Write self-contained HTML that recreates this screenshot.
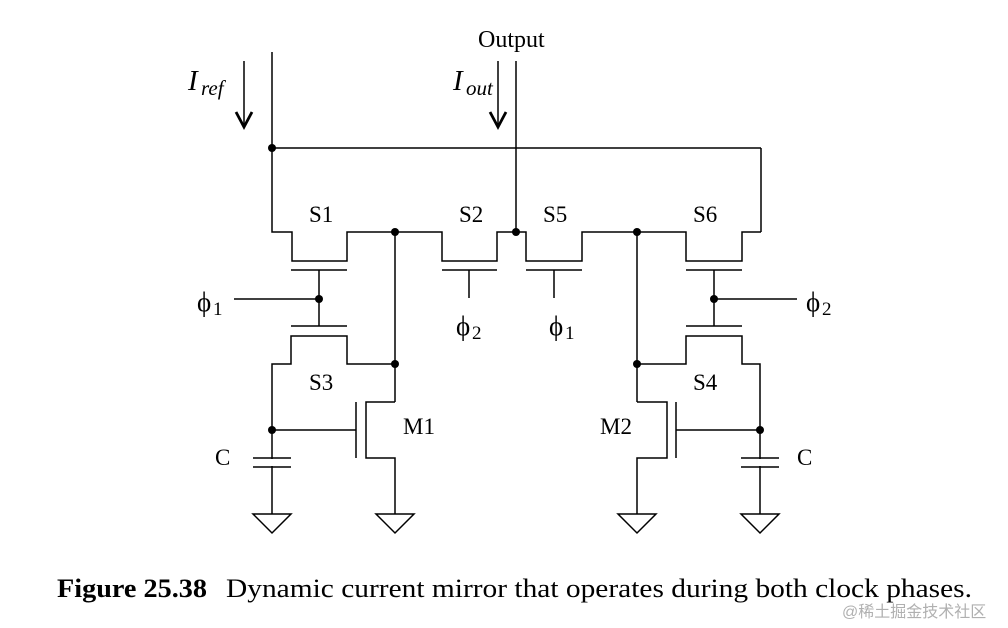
<!DOCTYPE html>
<html><head><meta charset="utf-8"><style>
html,body{margin:0;padding:0;background:#fff;}
svg{display:block;}
text{font-family:"Liberation Serif",serif;fill:#000;}
</style></head><body>
<svg width="1008" height="628" viewBox="0 0 1008 628" xmlns="http://www.w3.org/2000/svg">
<g stroke="#000" stroke-width="1.5" fill="none">
<line x1="272" y1="52" x2="272" y2="148"/>
<line x1="516" y1="61" x2="516" y2="232"/>
<line x1="272" y1="148" x2="761" y2="148"/>
<line x1="761" y1="148" x2="761" y2="232"/>
<line x1="244" y1="61" x2="244" y2="126"/>
<polyline points="236,112 244,127 252,112" stroke-width="2.8"/>
<line x1="498" y1="61" x2="498" y2="126"/>
<polyline points="490,112 498,127 506,112" stroke-width="2.8"/>
<polyline points="272,148 272,232 292,232 292,261 347,261 347,232 442,232 442,261 497,261 497,232 526,232 526,261 582,261 582,232 686,232 686,261 742,261 742,232 761,232"/>
<line x1="291" y1="270" x2="347" y2="270"/>
<line x1="291" y1="326" x2="347" y2="326"/>
<line x1="319" y1="270" x2="319" y2="326"/>
<line x1="234" y1="299" x2="319" y2="299"/>
<polyline points="272,514 272,364 291,364 291,336 347,336 347,364 395,364"/>
<line x1="395" y1="232" x2="395" y2="402"/>
<polyline points="395,402 366,402 366,458 395,458 395,514"/>
<line x1="356" y1="402" x2="356" y2="458"/>
<line x1="272" y1="430" x2="356" y2="430"/>
<line x1="253" y1="458" x2="291" y2="458"/>
<line x1="253" y1="467" x2="291" y2="467"/>
<line x1="442" y1="270" x2="497" y2="270"/>
<line x1="469" y1="270" x2="469" y2="298"/>
<line x1="526" y1="270" x2="582" y2="270"/>
<line x1="554" y1="270" x2="554" y2="298"/>
<line x1="686" y1="270" x2="742" y2="270"/>
<line x1="686" y1="326" x2="742" y2="326"/>
<line x1="714" y1="270" x2="714" y2="326"/>
<line x1="714" y1="299" x2="797" y2="299"/>
<polyline points="637,364 686,364 686,336 742,336 742,364 760,364 760,514"/>
<line x1="637" y1="232" x2="637" y2="402"/>
<polyline points="637,402 667,402 667,458 637,458 637,514"/>
<line x1="676" y1="402" x2="676" y2="458"/>
<line x1="676" y1="430" x2="760" y2="430"/>
<line x1="741" y1="458" x2="779" y2="458"/>
<line x1="741" y1="467" x2="779" y2="467"/>
<polygon points="253,514 291,514 272,533"/>
<polygon points="376,514 414,514 395,533"/>
<polygon points="618,514 656,514 637,533"/>
<polygon points="741,514 779,514 760,533"/>
</g>
<rect x="260" y="459" width="24" height="7" fill="#fff"/>
<rect x="748" y="459" width="24" height="7" fill="#fff"/>
<g fill="#000">
<circle cx="272" cy="148" r="4"/>
<circle cx="395" cy="232" r="4"/>
<circle cx="516" cy="232" r="4"/>
<circle cx="637" cy="232" r="4"/>
<circle cx="319" cy="299" r="4"/>
<circle cx="714" cy="299" r="4"/>
<circle cx="395" cy="364" r="4"/>
<circle cx="637" cy="364" r="4"/>
<circle cx="272" cy="430" r="4"/>
<circle cx="760" cy="430" r="4"/>
</g>
<text x="478" y="47" font-size="24">Output</text>
<text x="188" y="90" font-size="29" font-style="italic">I</text>
<text x="201" y="95" font-size="21" font-style="italic">ref</text>
<text x="453" y="90" font-size="29" font-style="italic">I</text>
<text x="466" y="95" font-size="21" font-style="italic">out</text>
<text x="309" y="222" font-size="23">S1</text>
<text x="459" y="222" font-size="23">S2</text>
<text x="543" y="222" font-size="23">S5</text>
<text x="693" y="222" font-size="23">S6</text>
<text x="309" y="390" font-size="23">S3</text>
<text x="693" y="390" font-size="23">S4</text>
<text x="403" y="434" font-size="23">M1</text>
<text x="600" y="434" font-size="23">M2</text>
<text x="215" y="465" font-size="23">C</text>
<text x="797" y="465" font-size="23">C</text>
<text x="197" y="311" font-size="27">ϕ</text><text x="213" y="315" font-size="19">1</text>
<text x="456" y="335" font-size="27">ϕ</text><text x="472" y="339" font-size="19">2</text>
<text x="549" y="335" font-size="27">ϕ</text><text x="565" y="339" font-size="19">1</text>
<text x="806" y="311" font-size="27">ϕ</text><text x="822" y="315" font-size="19">2</text>
<text x="57" y="597" font-size="26" font-weight="bold" textLength="150" lengthAdjust="spacingAndGlyphs">Figure 25.38</text>
<text x="226" y="597" font-size="26" textLength="746" lengthAdjust="spacingAndGlyphs">Dynamic current mirror that operates during both clock phases.</text>
<text x="842" y="617" font-size="16" style="font-family:'Liberation Sans','Noto Sans CJK SC',sans-serif;fill:#b0b0b0">@稀土掘金技术社区</text>
</svg>
</body></html>
